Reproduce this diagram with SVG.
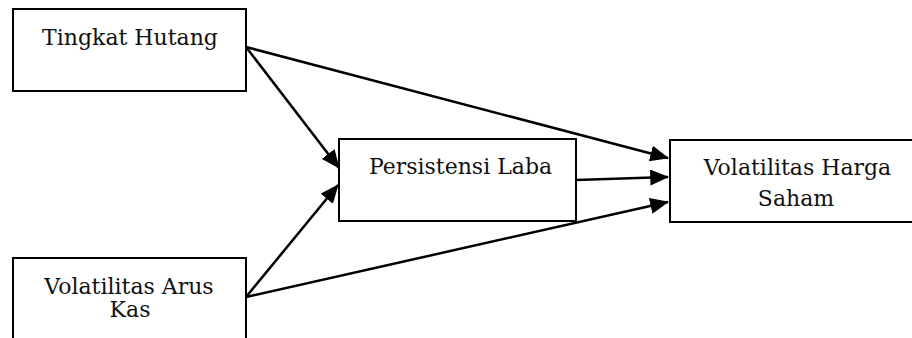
<svg xmlns="http://www.w3.org/2000/svg" width="912" height="338" viewBox="0 0 912 338">
<style>
.box{fill:#fff;stroke:#000;stroke-width:2}
.lbl{font-family:"DejaVu Serif","Liberation Serif",serif;font-size:22px;fill:#111;text-anchor:middle}
.conn{stroke:#000;stroke-width:2.5;fill:none;marker-end:url(#ah)}
</style>
<defs>
<marker id="ah" markerWidth="7.5" markerHeight="6.4" refX="7.1" refY="3.2" orient="auto" markerUnits="strokeWidth" viewBox="0 0 7.5 6.4">
<path d="M0,0 L7.5,3.2 L0,6.4 Z" fill="#000"/>
</marker>
</defs>
<rect width="912" height="338" fill="#fff"/>
<g id="node-tingkat-hutang">
<rect class="box" x="13" y="9" width="233" height="82"/>
<text class="lbl" x="130" y="45">Tingkat Hutang</text>
</g>
<g id="node-volatilitas-arus-kas">
<rect class="box" x="13" y="258" width="233" height="100"/>
<text class="lbl"><tspan x="129" y="294">Volatilitas Arus</tspan><tspan x="130" y="317">Kas</tspan></text>
</g>
<g id="node-persistensi-laba">
<rect class="box" x="339" y="139" width="237" height="82"/>
<text class="lbl" x="460.5" y="174">Persistensi Laba</text>
</g>
<g id="node-volatilitas-harga-saham">
<rect class="box" x="670" y="140" width="260" height="82"/>
<text class="lbl"><tspan x="797.5" y="175">Volatilitas Harga</tspan><tspan x="796" y="206">Saham</tspan></text>
</g>
<g id="connectors">
<line class="conn" x1="246" y1="47" x2="339" y2="168"/>
<line class="conn" x1="246" y1="47" x2="668" y2="158"/>
<line class="conn" x1="576" y1="180" x2="668" y2="177"/>
<line class="conn" x1="246" y1="297" x2="338" y2="185"/>
<line class="conn" x1="246" y1="297" x2="668" y2="202"/>
</g>
</svg>
